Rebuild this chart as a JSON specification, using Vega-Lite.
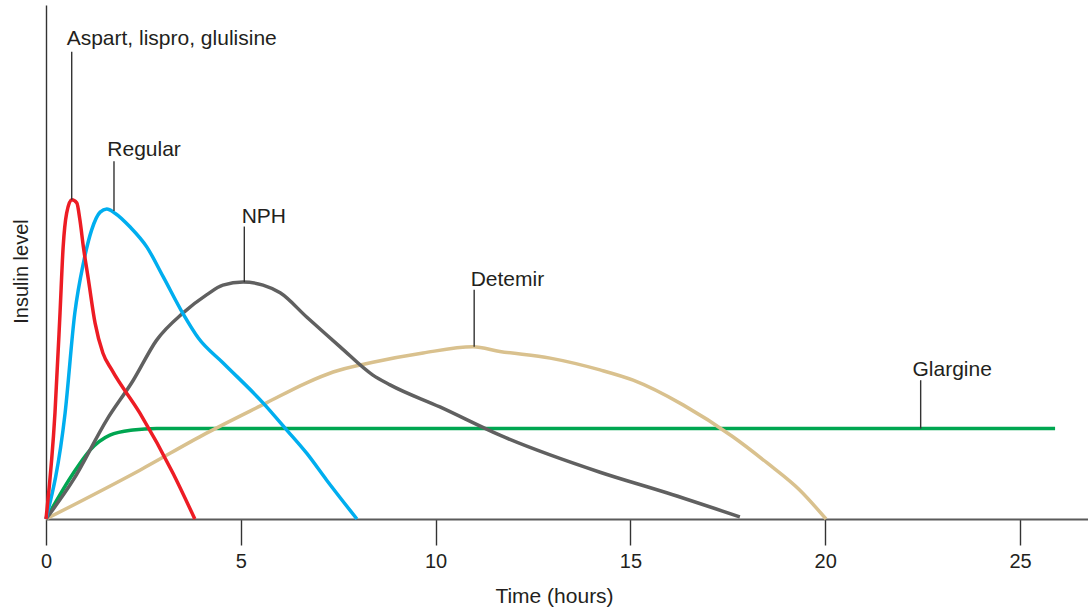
{
  "$schema": "https://vega.github.io/schema/vega-lite/v6.json",
  "width": 1042,
  "height": 514,
  "autosize": {"type": "none"},
  "padding": {"left": 46, "top": 5, "right": 0, "bottom": 88},
  "background": "white",
  "config": {
    "view": {"stroke": null},
    "font": "Liberation Sans",
    "text": {"font": "Liberation Sans"}
  },
  "datasets": {
    "curves": [
      {"drug": "Glargine", "t": 0, "level": 0},
      {"drug": "Glargine", "t": 0.70, "level": 8.9},
      {"drug": "Glargine", "t": 1.13, "level": 13.4},
      {"drug": "Glargine", "t": 1.64, "level": 16.3},
      {"drug": "Glargine", "t": 2.23, "level": 17.3},
      {"drug": "Glargine", "t": 2.84, "level": 17.6},
      {"drug": "Glargine", "t": 25.9, "level": 17.6},

      {"drug": "Detemir", "t": 0, "level": 0},
      {"drug": "Detemir", "t": 2.41, "level": 9.5},
      {"drug": "Detemir", "t": 4.12, "level": 16.7},
      {"drug": "Detemir", "t": 5.66, "level": 22.6},
      {"drug": "Detemir", "t": 6.69, "level": 26.5},
      {"drug": "Detemir", "t": 7.37, "level": 28.6},
      {"drug": "Detemir", "t": 8.39, "level": 30.5},
      {"drug": "Detemir", "t": 9.68, "level": 32.3},
      {"drug": "Detemir", "t": 10.96, "level": 33.5},
      {"drug": "Detemir", "t": 11.65, "level": 32.6},
      {"drug": "Detemir", "t": 12.94, "level": 31.3},
      {"drug": "Detemir", "t": 14.22, "level": 29.0},
      {"drug": "Detemir", "t": 15.07, "level": 27.0},
      {"drug": "Detemir", "t": 16.35, "level": 22.2},
      {"drug": "Detemir", "t": 17.63, "level": 16.0},
      {"drug": "Detemir", "t": 18.51, "level": 10.9},
      {"drug": "Detemir", "t": 19.35, "level": 5.6},
      {"drug": "Detemir", "t": 20.02, "level": 0},

      {"drug": "NPH", "t": 0, "level": 0},
      {"drug": "NPH", "t": 0.70, "level": 7.6},
      {"drug": "NPH", "t": 1.56, "level": 19.3},
      {"drug": "NPH", "t": 2.24, "level": 27.0},
      {"drug": "NPH", "t": 2.84, "level": 34.8},
      {"drug": "NPH", "t": 3.52, "level": 40.1},
      {"drug": "NPH", "t": 4.12, "level": 43.6},
      {"drug": "NPH", "t": 4.54, "level": 45.5},
      {"drug": "NPH", "t": 5.06, "level": 46.1},
      {"drug": "NPH", "t": 5.57, "level": 45.5},
      {"drug": "NPH", "t": 6.01, "level": 44.0},
      {"drug": "NPH", "t": 6.69, "level": 39.3},
      {"drug": "NPH", "t": 7.55, "level": 33.5},
      {"drug": "NPH", "t": 8.39, "level": 28.0},
      {"drug": "NPH", "t": 8.83, "level": 26.1},
      {"drug": "NPH", "t": 10.11, "level": 21.8},
      {"drug": "NPH", "t": 11.65, "level": 16.3},
      {"drug": "NPH", "t": 14.22, "level": 9.1},
      {"drug": "NPH", "t": 15.93, "level": 5.1},
      {"drug": "NPH", "t": 17.81, "level": 0.4},

      {"drug": "Regular", "t": 0, "level": 0},
      {"drug": "Regular", "t": 0.49, "level": 20.6},
      {"drug": "Regular", "t": 0.74, "level": 40.1},
      {"drug": "Regular", "t": 0.96, "level": 49.8},
      {"drug": "Regular", "t": 1.17, "level": 56.2},
      {"drug": "Regular", "t": 1.39, "level": 59.7},
      {"drug": "Regular", "t": 1.56, "level": 60.3},
      {"drug": "Regular", "t": 1.77, "level": 59.5},
      {"drug": "Regular", "t": 2.16, "level": 56.8},
      {"drug": "Regular", "t": 2.59, "level": 52.9},
      {"drug": "Regular", "t": 3.01, "level": 47.1},
      {"drug": "Regular", "t": 3.52, "level": 39.9},
      {"drug": "Regular", "t": 3.91, "level": 35.2},
      {"drug": "Regular", "t": 4.54, "level": 30.4},
      {"drug": "Regular", "t": 5.57, "level": 22.6},
      {"drug": "Regular", "t": 6.18, "level": 17.3},
      {"drug": "Regular", "t": 6.69, "level": 12.8},
      {"drug": "Regular", "t": 7.20, "level": 7.6},
      {"drug": "Regular", "t": 7.98, "level": 0},

      {"drug": "Aspart", "t": 0, "level": 0},
      {"drug": "Aspart", "t": 0.23, "level": 20.6},
      {"drug": "Aspart", "t": 0.36, "level": 40.1},
      {"drug": "Aspart", "t": 0.44, "level": 52.9},
      {"drug": "Aspart", "t": 0.53, "level": 59.5},
      {"drug": "Aspart", "t": 0.66, "level": 62.1},
      {"drug": "Aspart", "t": 0.79, "level": 61.5},
      {"drug": "Aspart", "t": 0.87, "level": 58.2},
      {"drug": "Aspart", "t": 0.96, "level": 52.9},
      {"drug": "Aspart", "t": 1.09, "level": 46.5},
      {"drug": "Aspart", "t": 1.26, "level": 38.1},
      {"drug": "Aspart", "t": 1.46, "level": 32.3},
      {"drug": "Aspart", "t": 1.69, "level": 29.0},
      {"drug": "Aspart", "t": 2.41, "level": 20.6},
      {"drug": "Aspart", "t": 3.26, "level": 8.9},
      {"drug": "Aspart", "t": 3.82, "level": 0}
    ],
    "leaders": [
      {"t": 0.66, "top": 90.9, "bottom": 62.1},
      {"t": 1.745, "top": 69.6, "bottom": 59.9},
      {"t": 5.09, "top": 56.9, "bottom": 46.1},
      {"t": 10.99, "top": 44.6, "bottom": 33.5},
      {"t": 22.45, "top": 27.0, "bottom": 17.6}
    ],
    "labels": [
      {"t": 0.53, "level": 92.2, "label": "Aspart, lispro, glulisine"},
      {"t": 1.573, "level": 70.6, "label": "Regular"},
      {"t": 5.023, "level": 57.6, "label": "NPH"},
      {"t": 10.90, "level": 45.3, "label": "Detemir"},
      {"t": 22.24, "level": 27.9, "label": "Glargine"}
    ]
  },
  "layer": [
    {
      "data": {"name": "curves"},
      "mark": {"type": "line", "interpolate": "monotone", "strokeWidth": 3.5, "clip": false},
      "encoding": {
        "x": {
          "field": "t", "type": "quantitative",
          "scale": {"domain": [0, 26.745], "nice": false, "zero": false},
          "axis": {
            "values": [0, 5, 10, 15, 20, 25],
            "grid": false,
            "title": "Time (hours)",
            "titleFont": "Liberation Sans",
            "titleFontSize": 21,
            "titleFontWeight": "normal",
            "titleColor": "#231f20",
            "titleX": 508,
            "titleY": 83,
            "titleBaseline": "alphabetic",
            "titleAlign": "center",
            "labelFont": "Liberation Sans",
            "labelFontSize": 20,
            "labelColor": "#231f20",
            "labelPadding": 6,
            "labelFlush": false,
            "labelOverlap": false,
            "tickSize": 26,
            "tickColor": "#333333",
            "tickWidth": 1.4,
            "domainColor": "#5a5a5a",
            "domainWidth": 1.8
          }
        },
        "y": {
          "field": "level", "type": "quantitative",
          "scale": {"domain": [0, 100], "nice": false},
          "axis": {
            "grid": false,
            "ticks": false,
            "labels": false,
            "title": "Insulin level",
            "titleFont": "Liberation Sans",
            "titleFontSize": 20,
            "titleFontWeight": "normal",
            "titleColor": "#231f20",
            "titleAngle": -90,
            "titleX": -19,
            "titleY": 266,
            "titleBaseline": "alphabetic",
            "titleAlign": "center",
            "domainColor": "#333333",
            "domainWidth": 1.4
          }
        },
        "color": {
          "field": "drug", "type": "nominal",
          "scale": {
            "domain": ["Aspart", "Regular", "NPH", "Detemir", "Glargine"],
            "range": ["#ed1c24", "#00aeef", "#606060", "#d9c18e", "#00a651"]
          },
          "legend": null
        },
        "order": {"field": "t", "type": "quantitative"}
      }
    },
    {
      "data": {"name": "leaders"},
      "mark": {"type": "rule", "color": "#333333", "strokeWidth": 1.4},
      "encoding": {
        "x": {"field": "t", "type": "quantitative"},
        "y": {"field": "top", "type": "quantitative"},
        "y2": {"field": "bottom"}
      }
    },
    {
      "data": {"name": "labels"},
      "mark": {"type": "text", "align": "left", "baseline": "alphabetic", "fontSize": 21, "font": "Liberation Sans", "color": "#231f20"},
      "encoding": {
        "x": {"field": "t", "type": "quantitative"},
        "y": {"field": "level", "type": "quantitative"},
        "text": {"field": "label", "type": "nominal"}
      }
    }
  ]
}
